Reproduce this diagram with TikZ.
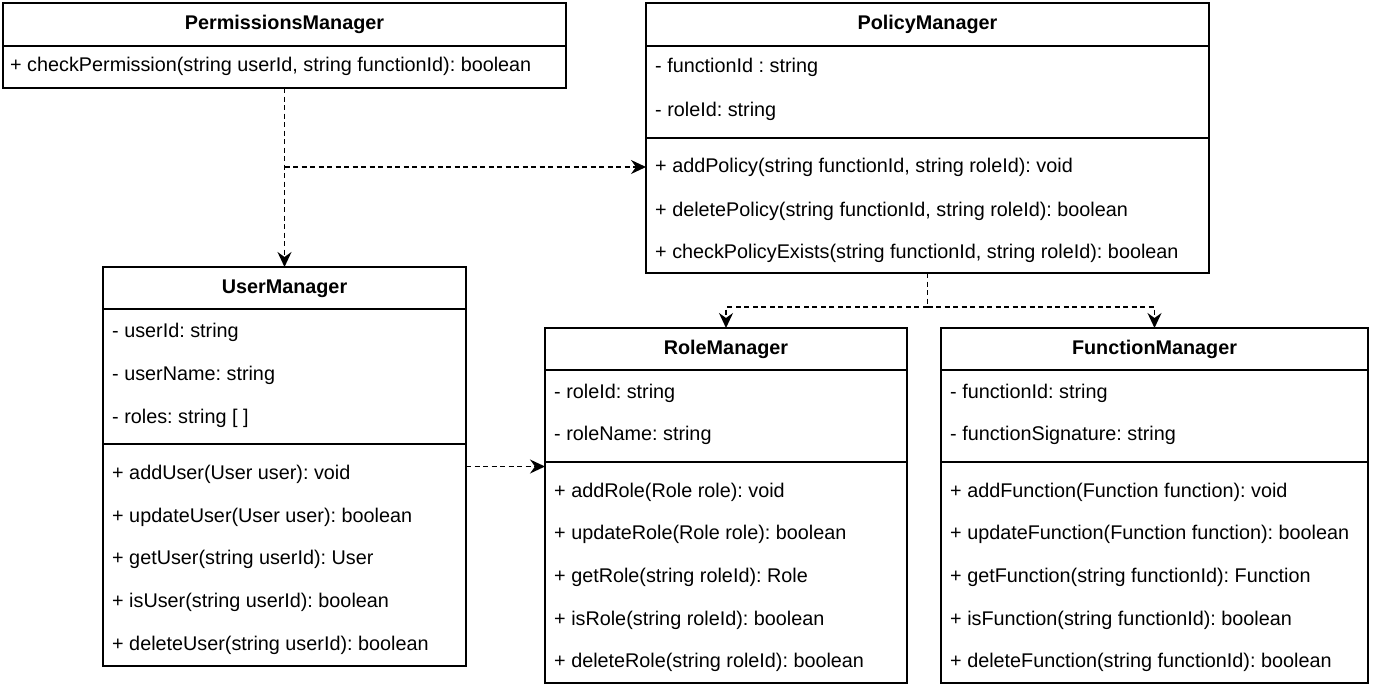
\documentclass[tikz,border=0pt]{standalone}
\usepackage{fontspec}
\setmainfont{Liberation Sans}
\frenchspacing
\usetikzlibrary{arrows.meta,calc}
\tikzset{
  classbox/.style={draw=black, line width=1.6pt, fill=white, rectangle, inner sep=0pt, outer sep=0pt, anchor=north west},
  divider/.style={draw=black, line width=1.6pt},
  titletxt/.style={inner sep=0pt, font=\fontsize{19.8}{23}\selectfont\bfseries\frenchspacing, text height=14pt, text depth=4pt},
  rowtxt/.style={inner sep=0pt, anchor=west, font=\fontsize{19.8}{23}\selectfont\frenchspacing, text height=14pt, text depth=4pt},
  dep/.style={draw=black, line width=1.6pt, dash pattern=on 5pt off 3.5pt, -{Stealth[length=15pt,width=14pt,inset=5pt]}},
  depline/.style={draw=black, line width=1.6pt, dash pattern=on 5pt off 3.5pt}
}
\begin{document}
\begin{tikzpicture}[x=1pt,y=-1pt]
\useasboundingbox (0,0) rectangle (1379,685);

% ---------------- PermissionsManager
\node[classbox, minimum width=563pt, minimum height=85pt] (perm) at (3,3) {};
\draw[divider] (3,46) -- (566,46);
\node[titletxt] (permT) at (284.5,24.5) {PermissionsManager};
\node[rowtxt] (permM1) at (10,67) {+ checkPermission(string userId, string functionId): boolean};

% ---------------- PolicyManager
\node[classbox, minimum width=563pt, minimum height=270pt] (pol) at (646,3) {};
\draw[divider] (646,46) -- (1209,46);
\draw[divider] (646,138) -- (1209,138);
\node[titletxt] (polT) at (927.5,24.5) {PolicyManager};
\node[rowtxt] (polA1) at (655,68) {- functionId : string};
\node[rowtxt] (polA2) at (655,112) {- roleId: string};
\node[rowtxt] (polM1) at (655,167) {+ addPolicy(string functionId, string roleId): void};
\node[rowtxt] (polM2) at (655,211) {+ deletePolicy(string functionId, string roleId): boolean};
\node[rowtxt] (polM3) at (655,253) {+ checkPolicyExists(string functionId, string roleId): boolean};

% ---------------- UserManager
\node[classbox, minimum width=363pt, minimum height=399pt] (um) at (103,267) {};
\draw[divider] (103,309) -- (466,309);
\draw[divider] (103,444) -- (466,444);
\node[titletxt] (umT) at (284.5,288) {UserManager};
\node[rowtxt] (umA1) at (112,332) {- userId: string};
\node[rowtxt] (umA2) at (112,375) {- userName: string};
\node[rowtxt] (umA3) at (112,418) {- roles: string [ ]};
\node[rowtxt] (umM1) at (112,474) {+ addUser(User user): void};
\node[rowtxt] (umM2) at (112,517) {+ updateUser(User user): boolean};
\node[rowtxt] (umM3) at (112,559) {+ getUser(string userId): User};
\node[rowtxt] (umM4) at (112,602) {+ isUser(string userId): boolean};
\node[rowtxt] (umM5) at (112,645) {+ deleteUser(string userId): boolean};

% ---------------- RoleManager
\node[classbox, minimum width=362pt, minimum height=355pt] (rm) at (545,328) {};
\draw[divider] (545,370) -- (907,370);
\draw[divider] (545,462) -- (907,462);
\node[titletxt] (rmT) at (726,349) {RoleManager};
\node[rowtxt] (rmA1) at (554,393) {- roleId: string};
\node[rowtxt] (rmA2) at (554,435) {- roleName: string};
\node[rowtxt] (rmM1) at (554,492) {+ addRole(Role role): void};
\node[rowtxt] (rmM2) at (554,534) {+ updateRole(Role role): boolean};
\node[rowtxt] (rmM3) at (554,577) {+ getRole(string roleId): Role};
\node[rowtxt] (rmM4) at (554,620) {+ isRole(string roleId): boolean};
\node[rowtxt] (rmM5) at (554,662) {+ deleteRole(string roleId): boolean};

% ---------------- FunctionManager
\node[classbox, minimum width=427pt, minimum height=355pt] (fm) at (941,328) {};
\draw[divider] (941,370) -- (1368,370);
\draw[divider] (941,462) -- (1368,462);
\node[titletxt] (fmT) at (1154.5,349) {FunctionManager};
\node[rowtxt] (fmA1) at (950,393) {- functionId: string};
\node[rowtxt] (fmA2) at (950,435) {- functionSignature: string};
\node[rowtxt] (fmM1) at (950,492) {+ addFunction(Function function): void};
\node[rowtxt] (fmM2) at (950,534) {+ updateFunction(Function function): boolean};
\node[rowtxt] (fmM3) at (950,577) {+ getFunction(string functionId): Function};
\node[rowtxt] (fmM4) at (950,620) {+ isFunction(string functionId): boolean};
\node[rowtxt] (fmM5) at (950,662) {+ deleteFunction(string functionId): boolean};

% ---------------- connectors
\coordinate (br) at (perm.south |- 0,167);
\coordinate (jn) at (pol.south |- 0,307);
\draw[dep] (perm.south) -- (um.north);
\draw[dep] (br) -- (br -| pol.west);
\draw[depline] (pol.south) -- (jn);
\draw[dep] (jn) -| (rm.north);
\draw[dep] (jn) -| (fm.north);
\draw[dep] (um.east) -- (um.east -| rm.west);
\end{tikzpicture}
\end{document}
